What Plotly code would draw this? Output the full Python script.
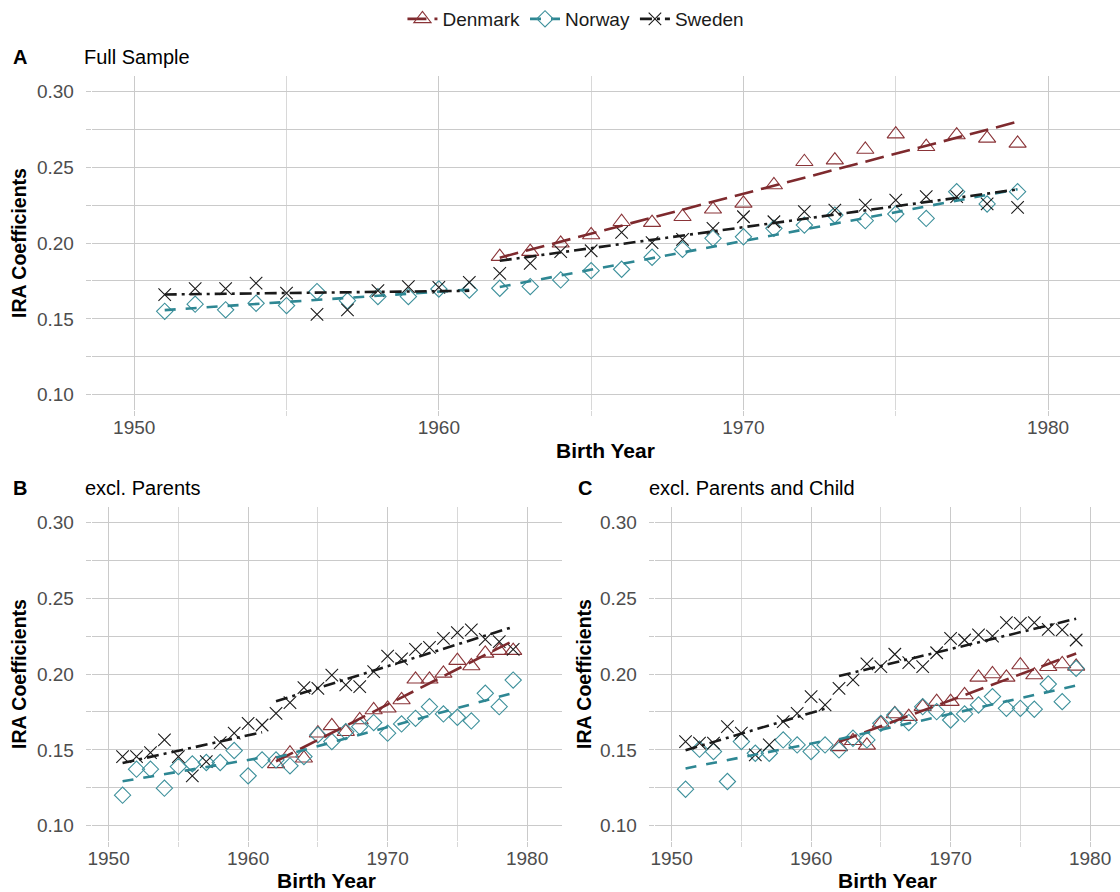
import numpy as np
import plotly.graph_objects as go

# ---------------- data ----------------
years = list(range(1951, 1980))
years_post = list(range(1962, 1980))
countries = ["Denmark", "Norway", "Sweden"]

# Panel A: Full Sample
A_denmark_post = [0.191, 0.1943, 0.1998, 0.2053, 0.214, 0.2134, 0.2173, 0.2222, 0.2261,
                  0.2382, 0.2535, 0.2546, 0.2616, 0.2717, 0.2634, 0.2711, 0.2689, 0.2656]
A_norway = [0.155, 0.1597, 0.156, 0.1603, 0.1588, 0.168, 0.162, 0.1647, 0.1647, 0.1697, 0.169,
            0.1702, 0.1713, 0.1757, 0.1818, 0.1827, 0.1906, 0.1958, 0.2031, 0.2041, 0.2097,
            0.2118, 0.2184, 0.2147, 0.2191, 0.2162, 0.2338, 0.2257, 0.2338]
A_sweden = [0.166, 0.170, 0.170, 0.1735, 0.167, 0.153, 0.156, 0.1686, 0.1713, 0.1708, 0.1741,
            0.180, 0.1866, 0.1943, 0.1949, 0.207, 0.2002, 0.2024, 0.2097, 0.2173, 0.214,
            0.2206, 0.2217, 0.225, 0.2283, 0.2305, 0.2305, 0.2257, 0.2235]

# Panel B: excl. Parents
B_denmark_post = [0.1408, 0.1478, 0.1445, 0.161, 0.1658, 0.162, 0.1697, 0.1763, 0.1774,
                  0.1829, 0.1965, 0.1965, 0.2004, 0.2088, 0.2053, 0.2136, 0.2154, 0.2154]
B_norway = [0.1202, 0.1373, 0.1373, 0.1248, 0.139, 0.1408, 0.1417, 0.1417, 0.1496, 0.1329, 0.1434,
            0.1434, 0.1395, 0.1456, 0.1599, 0.1555, 0.162, 0.1653, 0.168, 0.161, 0.1671,
            0.1708, 0.1785, 0.1737, 0.1715, 0.1691, 0.1873, 0.1785, 0.196]
B_sweden = [0.1456, 0.1456, 0.1482, 0.1566, 0.1456, 0.1329, 0.1423, 0.1548, 0.161, 0.1675, 0.1664,
            0.1741, 0.1811, 0.191, 0.1906, 0.1993, 0.1928, 0.1917, 0.2015, 0.2118, 0.2099,
            0.2162, 0.2176, 0.2235, 0.2272, 0.229, 0.2228, 0.2213, 0.2162]

# Panel C: excl. Parents and Child
C_denmark_post = [0.152, 0.156, 0.153, 0.1675, 0.1737, 0.1719, 0.1785, 0.1818, 0.1818,
                  0.1862, 0.1978, 0.2, 0.1978, 0.2059, 0.1993, 0.2048, 0.2066, 0.205]
C_norway = [0.1241, 0.1505, 0.1489, 0.1292, 0.1555, 0.1478, 0.1478, 0.1566, 0.1533, 0.1489, 0.1533,
            0.15, 0.1577, 0.1566, 0.1675, 0.173, 0.168, 0.1785, 0.1752, 0.1697, 0.1737,
            0.1796, 0.1851, 0.1774, 0.1774, 0.1768, 0.1934, 0.1818, 0.2037]
C_sweden = [0.1555, 0.1544, 0.1544, 0.1653, 0.161, 0.1467, 0.1533, 0.1686, 0.1741, 0.1851, 0.1796,
            0.1906, 0.1961, 0.2066, 0.2048, 0.213, 0.2075, 0.2048, 0.214, 0.2235, 0.2224,
            0.2257, 0.225, 0.2338, 0.2333, 0.2338, 0.2294, 0.229, 0.2224]

x_tick_vals = [1950, 1960, 1970, 1980]
x_minor_vals = [1955, 1965, 1975]
y_tick_vals = [0.10, 0.15, 0.20, 0.25, 0.30]
y_tick_text = ["0.10", "0.15", "0.20", "0.25", "0.30"]
y_minor_vals = [0.125, 0.175, 0.225, 0.275]

panel_letters = ["A", "B", "C"]
panel_titles = ["Full Sample", "excl. Parents", "excl. Parents and Child"]

# ---------------- styles ----------------
W, H = 1120, 892
FONT = "Liberation Sans, Arial, Helvetica, sans-serif"
COL = {"Denmark": "#7E2A2E", "Norway": "#2E8793", "Sweden": "#1A1A1A"}
MCOL = {"Denmark": "#8A3438", "Norway": "#3D909B", "Sweden": "#1A1A1A"}
SYM = {"Denmark": "triangle-up-open", "Norway": "diamond-open", "Sweden": "x-thin-open"}
MSIZE = {"Denmark": 15, "Norway": 12.5, "Sweden": 12.5}
DASH = {"Denmark": "19px,8px", "Norway": "11px,10px", "Sweden": "12px,5px,3px,5px"}
GRID = "#CACACA"
GRID_MINOR = "#D8D8D8"


def px_x(p):
    return p / W


def px_y(p):
    return 1 - p / H


# panel geometry in pixels: (left, right, top, bottom, xmin, xmax)
geom = [
    (88, 1120, 76, 410, 1950 - 42.7 / 30.57, 1950 + 989.3 / 30.57),
    (88, 560, 507, 841, 1950 - 17 / 14, 1950 + 455 / 14),
    (653, 1120, 507, 841, 1950 - 17 / 14, 1950 + 450 / 14),
]

panel_data = [
    (A_denmark_post, A_norway, A_sweden),
    (B_denmark_post, B_norway, B_sweden),
    (C_denmark_post, C_norway, C_sweden),
]

fig = go.Figure()


def fit_line(xs, ys):
    xs = np.array(xs, dtype=float)
    ys = np.array(ys, dtype=float)
    b, a = np.polyfit(xs, ys, 1)
    ends = [xs.min(), xs.max()]
    return ends, [a + b * e for e in ends]


for i, (den_post, nor, swe) in enumerate(panel_data):
    xa = "x" if i == 0 else f"x{i+1}"
    ya = "y" if i == 0 else f"y{i+1}"
    series = {
        "Denmark": (years_post, den_post),
        "Norway": (years, nor),
        "Sweden": (years, swe),
    }
    for c in countries:
        xs, ys = series[c]
        fig.add_trace(go.Scatter(
            x=xs, y=ys, mode="markers", xaxis=xa, yaxis=ya, showlegend=False,
            marker=dict(symbol=SYM[c], size=MSIZE[c], color=MCOL[c],
                        line=dict(width=1.1, color=MCOL[c])),
            hoverinfo="skip"))
    # fitted lines (separate before / after 1962)
    for c in countries:
        xs, ys = series[c]
        segs = []
        pre = [(x, y) for x, y in zip(xs, ys) if x < 1962]
        post = [(x, y) for x, y in zip(xs, ys) if x >= 1962]
        for seg in (pre, post):
            if len(seg) >= 2:
                segs.append(fit_line([s[0] for s in seg], [s[1] for s in seg]))
        for ex, ey in segs:
            fig.add_trace(go.Scatter(
                x=ex, y=ey, mode="lines", xaxis=xa, yaxis=ya, showlegend=False,
                line=dict(color=COL[c], width=2.6, dash=DASH[c]), hoverinfo="skip"))

# legend-only traces
for c in countries:
    fig.add_trace(go.Scatter(
        x=[None], y=[None], mode="lines+markers", name=c,
        marker=dict(symbol=SYM[c], size=MSIZE[c], color=MCOL[c],
                    line=dict(width=1.1, color=MCOL[c])),
        line=dict(color=COL[c], width=2.6, dash=DASH[c])))

layout = dict(
    width=W, height=H, margin=dict(l=0, r=0, t=0, b=0),
    paper_bgcolor="white", plot_bgcolor="white",
    font=dict(family=FONT, color="#000000"),
    showlegend=True,
    legend=dict(orientation="h", x=px_x(574), xanchor="center", y=px_y(0), yanchor="top",
                font=dict(size=19, family=FONT, color="#1A1A1A"), itemwidth=30,
                bgcolor="rgba(0,0,0,0)"),
)

for i, (l, r, t, b, xmin, xmax) in enumerate(geom):
    xk = "xaxis" if i == 0 else f"xaxis{i+1}"
    yk = "yaxis" if i == 0 else f"yaxis{i+1}"
    xa = "x" if i == 0 else f"x{i+1}"
    ya = "y" if i == 0 else f"y{i+1}"
    layout[xk] = dict(
        domain=[px_x(l), px_x(r)], range=[xmin, xmax], anchor=ya,
        tickvals=x_tick_vals, ticktext=[str(v) for v in x_tick_vals],
        showgrid=True, gridcolor=GRID, gridwidth=1.3, zeroline=False, showline=False,
        ticks="outside", ticklen=5, tickwidth=1.3, tickcolor=GRID,
        ticklabelstandoff=-5,
        tickfont=dict(size=19, color="#4D4D4D", family=FONT),
        minor=dict(tickvals=x_minor_vals, showgrid=True, gridcolor=GRID_MINOR, gridwidth=1.1,
                   ticks="outside", ticklen=5, tickcolor=GRID_MINOR, tickwidth=1.1),
    )
    layout[yk] = dict(
        domain=[px_y(b), px_y(t)], range=[0.09, 0.31], anchor=xa,
        tickvals=y_tick_vals, ticktext=y_tick_text,
        showgrid=True, gridcolor=GRID, gridwidth=1.3, zeroline=False, showline=False,
        ticks="outside", ticklen=5, tickwidth=1.3, tickcolor=GRID,
        ticklabelstandoff=8,
        tickfont=dict(size=19, color="#4D4D4D", family=FONT),
        minor=dict(tickvals=y_minor_vals, showgrid=True, gridcolor=GRID, gridwidth=1.1,
                   ticks="outside", ticklen=5, tickcolor=GRID, tickwidth=1.1),
    )

annotations = []
letter_pos = [(7, 57), (7, 488), (574, 488)]
title_pos = [(78, 57), (79, 488), (645, 488)]
for i in range(3):
    lx, ly = letter_pos[i]
    tx, ty = title_pos[i]
    annotations.append(dict(x=px_x(lx), y=px_y(ly), xref="paper", yref="paper",
                            text=f"<b>{panel_letters[i]}</b>", showarrow=False,
                            xanchor="left", yanchor="middle",
                            font=dict(size=20, color="#000000", family=FONT)))
    annotations.append(dict(x=px_x(tx), y=px_y(ty), xref="paper", yref="paper",
                            text=panel_titles[i], showarrow=False,
                            xanchor="left", yanchor="middle",
                            font=dict(size=20, color="#000000", family=FONT)))
    l, r, t, b, _, _ = geom[i]
    xt_y = 450 if i == 0 else 880
    annotations.append(dict(x=px_x((l + r) / 2), y=px_y(xt_y), xref="paper", yref="paper",
                            text="<b>Birth Year</b>", showarrow=False,
                            xanchor="center", yanchor="middle",
                            font=dict(size=21, color="#000000", family=FONT)))
    yt_x = 15 if i < 2 else 582
    annotations.append(dict(x=px_x(yt_x), y=px_y((t + b) / 2), xref="paper", yref="paper",
                            text="<b>IRA Coefficients</b>", showarrow=False, textangle=-90,
                            xanchor="center", yanchor="middle",
                            font=dict(size=19.5, color="#000000", family=FONT)))
layout["annotations"] = annotations

fig.update_layout(**layout)
fig.write_html("out.html", config={"displayModeBar": False},
               post_script="document.body.style.margin='0';document.body.style.padding='0';"
                           "document.body.style.overflow='hidden';")
